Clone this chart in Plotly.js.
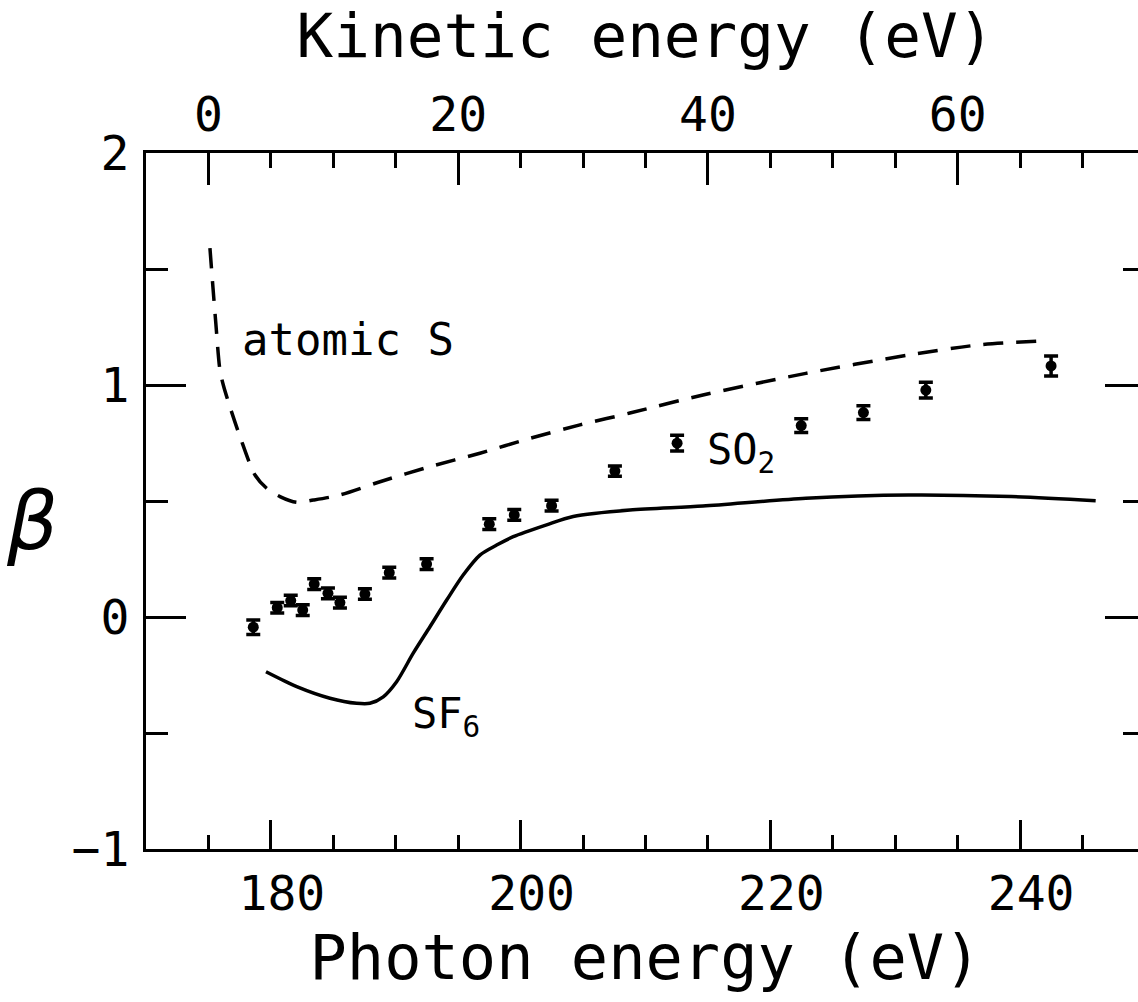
<!DOCTYPE html>
<html><head><meta charset="utf-8">
<script src="https://cdn.plot.ly/plotly-3.0.1.min.js"></script>
<style>html,body{margin:0;padding:0;overflow:hidden;background:#fff}#chart{width:1150px;height:1002px}</style>
</head><body><div id="chart"></div><script>
// Atomic S (dashed theory curve)
const atomicE = [175.12,175.36,175.6,175.92,176.19,176.72,177.53,178.73,179.66,180.73,182.07,183.4,185.53,188.74,192.74,196.74,200.75,204.75,208.75,214.6,222.84,231.07,236.57,242.2];
const atomicBeta = [1.59,1.422,1.26,1.065,1.0,0.906,0.777,0.612,0.555,0.519,0.494,0.504,0.526,0.583,0.648,0.706,0.770,0.828,0.879,0.957,1.050,1.129,1.172,1.191];
// SF6 (solid theory curve)
const sf6E = [179.61,182.07,184.73,186.87,187.93,189.0,190.07,191.4,192.74,194.08,195.4,196.74,198.08,199.41,202.08,204.21,208.75,214.6,222.84,231.07,239.31,246.05];
const sf6Beta = [-0.236,-0.300,-0.350,-0.372,-0.372,-0.344,-0.279,-0.156,-0.042,0.073,0.181,0.267,0.310,0.346,0.397,0.433,0.461,0.478,0.512,0.526,0.519,0.501];
// SO2 measured points
const so2E = [178.59,180.51,181.59,182.55,183.47,184.57,185.53,187.53,189.48,192.47,197.49,199.49,202.48,207.55,212.53,222.47,227.45,232.45,242.48];
const so2Beta = [-0.044,0.040,0.071,0.030,0.142,0.102,0.062,0.099,0.191,0.228,0.400,0.440,0.480,0.629,0.749,0.825,0.881,0.978,1.082];
const so2Err = [0.031,0.023,0.023,0.023,0.023,0.023,0.023,0.023,0.023,0.023,0.023,0.023,0.023,0.022,0.034,0.03,0.03,0.034,0.043];
// Kinetic energy = photon energy - threshold
const threshold = 175;
// Tick settings
const photonTick0 = 180, photonDtick = 20, photonMinor = 5;
const kineticTick0 = 0, kineticDtick = 20, kineticMinor = 5;
const betaTick0 = -1, betaDtick = 1, betaMinor = 0.5;

const FONT = '"DejaVu Sans Mono", monospace';
const traces = [
  {x: atomicE, y: atomicBeta, mode:'lines', line:{color:'black', width:3.5, dash:'20px,13px', shape:'spline', smoothing:0.8}, hoverinfo:'skip', name:'atomic S'},
  {x: sf6E, y: sf6Beta, mode:'lines', line:{color:'black', width:3.5, shape:'spline', smoothing:0.8}, hoverinfo:'skip', name:'SF6'},
  {x: so2E, y: so2Beta, mode:'markers', marker:{color:'black', size:11},
   error_y:{type:'data', array:so2Err, visible:true, color:'black', thickness:3.5, width:7}, name:'SO2'},
  // same atomic curve on the kinetic-energy axis (invisible, keeps the top axis drawn)
  {x: atomicE.map(e => e - threshold), y: atomicBeta, xaxis:'x2', yaxis:'y', mode:'lines', opacity:0,
   line:{color:'black', width:0}, hoverinfo:'skip', name:'atomic S (KE)'}
];
const axBase = {showline:true, linewidth:3, linecolor:'black', ticks:'inside', tickwidth:3, tickcolor:'black',
  showgrid:false, zeroline:false, tickfont:{size:48, family:FONT, color:'black'}};
const layout = {
  width:1150, height:1002, margin:{l:146, r:5, t:153, b:153},
  paper_bgcolor:'white', plot_bgcolor:'white', showlegend:false,
  font:{family:FONT, color:'black'},
  xaxis: Object.assign({}, axBase, {range:[170,250], tickmode:'linear', tick0:photonTick0, dtick:photonDtick, ticklen:29,
    mirror:false, ticklabelshift:11, ticklabelstandoff:0,
    minor:{tick0:photonTick0, dtick:photonMinor, ticks:'inside', ticklen:14, tickwidth:3, tickcolor:'black', showgrid:false},
    title:{text:'Photon energy (eV)', font:{size:62, family:FONT}, standoff:16}}),
  xaxis2: Object.assign({}, axBase, {overlaying:'x', side:'top', anchor:'y', range:[170-threshold,250-threshold], tickmode:'linear', tick0:kineticTick0, dtick:kineticDtick, ticklen:32,
    ticklabelstandoff:0,
    minor:{tick0:kineticTick0, dtick:kineticMinor, ticks:'inside', ticklen:15, tickwidth:3, tickcolor:'black', showgrid:false},
    title:{text:'Kinetic energy (eV)', font:{size:61, family:FONT}, standoff:22}}),
  yaxis: Object.assign({}, axBase, {range:[-1,2], tickmode:'linear', tick0:betaTick0, dtick:betaDtick, ticklen:40, mirror:'ticks',
    ticklabelstandoff:4,
    minor:{tick0:betaTick0, dtick:betaMinor, ticks:'inside', ticklen:22, tickwidth:3, tickcolor:'black', showgrid:false}}),
  annotations:[
    {xref:'paper', yref:'paper', x:-0.114, y:0.47, text:'β', showarrow:false, xanchor:'center', yanchor:'middle',
     font:{size:80, family:'"DejaVu Sans", sans-serif', style:'italic', color:'black'}},
    {x:177.53, y:1.194, text:'atomic S', showarrow:false, xanchor:'left', yanchor:'middle', font:{size:44, family:FONT}},
    {x:214.73, y:0.711, text:'SO<sub>2</sub>', showarrow:false, xanchor:'left', yanchor:'middle', font:{size:42, family:FONT}},
    {x:191.14, y:-0.431, text:'SF<sub>6</sub>', showarrow:false, xanchor:'left', yanchor:'middle', font:{size:42, family:FONT}}
  ]
};
Plotly.newPlot('chart', traces, layout, {staticPlot:true, displayModeBar:false});
</script></body></html>
